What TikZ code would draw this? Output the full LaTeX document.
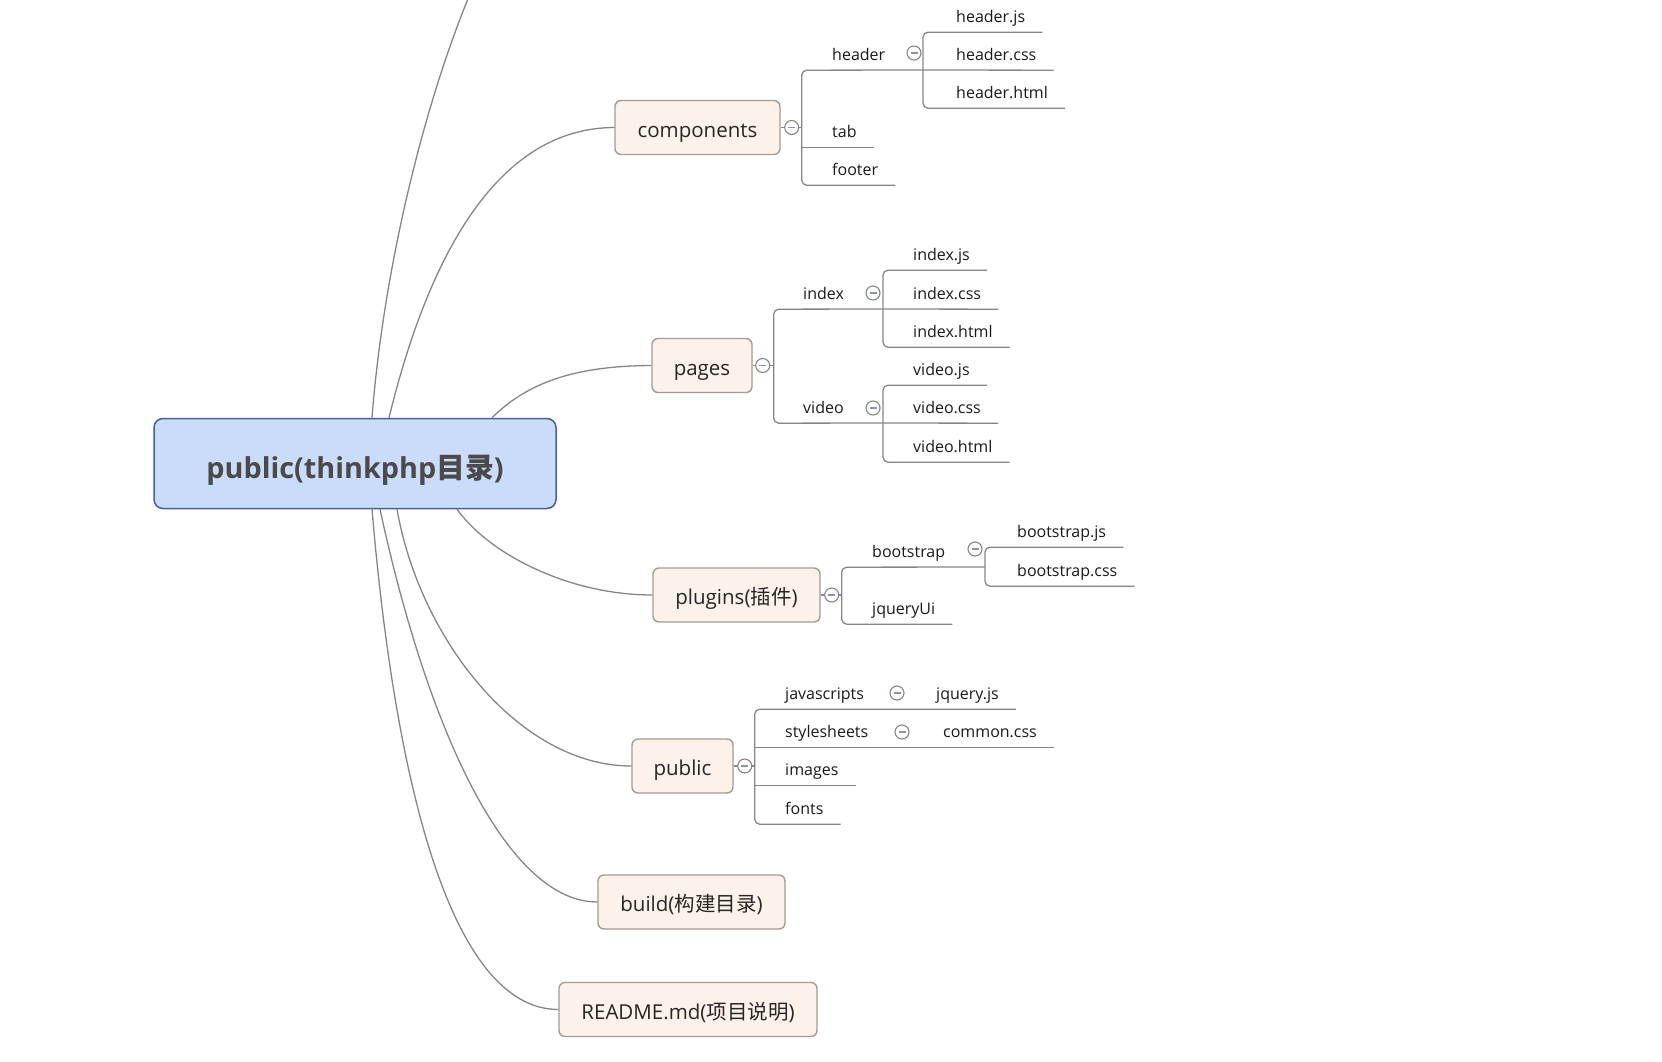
\documentclass[tikz,border=0pt]{standalone}
\usepackage{fontspec}
\setmainfont{Open Sans}
\newfontfamily\cjk{Noto Sans CJK SC}
\usetikzlibrary{positioning}

\definecolor{rootfill}{HTML}{CADCFA}
\definecolor{rootdraw}{HTML}{42609A}
\definecolor{roottext}{HTML}{4A4A4A}
\definecolor{topicfill}{HTML}{FDF2E9}
\definecolor{topicdraw}{HTML}{A39B94}
\definecolor{linegray}{HTML}{858585}
\definecolor{minusblue}{HTML}{8194BE}

\tikzset{
  root/.style={draw=rootdraw, fill=rootfill, line width=1.5pt, rounded corners=9pt,
    minimum width=402pt, minimum height=90pt, text=roottext,
    text height=29pt, text depth=0pt, font=\fontsize{28.8}{32}\selectfont\bfseries},
  topic/.style={draw=topicdraw, fill=topicfill, line width=1.4pt, rounded corners=6pt,
    minimum height=54pt, inner xsep=0pt, text=black!85,
    text height=19.5pt, text depth=0pt, font=\fontsize{20.5}{24}\selectfont},
  leaf/.style={anchor=base west, inner sep=0pt, yshift=-3pt, text height=12pt,
    text depth=9.5pt, text=black!90, font=\fontsize{16}{19}\selectfont},
  branch/.style={draw=linegray, line width=1.3pt},
  fold/.style={circle, draw=linegray, fill=white, line width=1.1pt, minimum size=14pt,
    inner sep=0pt, path picture={\draw[minusblue, line width=1.2pt]
      ([xshift=-3.5pt]path picture bounding box.center) --
      ([xshift=3.5pt]path picture bounding box.center);}},
}

\begin{document}
\begin{tikzpicture}[x=1pt, y=-1pt]
  \useasboundingbox (0,0) rectangle (1662,1062);

  % root and main topics
  \node[root] (main) at (355,463.5) {public(thinkphp{\cjk 目录})};
  \node[topic, minimum width=165pt] (comp) at (697.5,127.5) {components};
  \node[topic, minimum width=100pt] (pages) at (702,365.5) {pages};
  \node[topic, minimum width=167pt] (plug) at (736.5,595) {plugins({\cjk 插件})};
  \node[topic, minimum width=101pt] (pub) at (682.5,766) {public};
  \node[topic, minimum width=187pt] (build) at (691.5,902) {build({\cjk 构建目录})};
  \node[topic, minimum width=258pt] (readme) at (688,1009.5) {README.md({\cjk 项目说明})};
  \coordinate (offtop) at (490,-50);

  % curves from the root
  \draw[branch] ([xshift=17pt]main.north) .. controls (385,250) and (435,60) .. (offtop);
  \draw[branch] ([xshift=34pt]main.north) .. controls (430,250) and (500,128) .. (comp.west);
  \draw[branch] ([xshift=137pt]main.north) .. controls (530,380) and (580,366) .. (pages.west);
  \draw[branch] ([xshift=102pt]main.south) .. controls (490,555) and (570,595) .. (plug.west);
  \draw[branch] ([xshift=42pt]main.south) .. controls (420,640) and (520,766) .. (pub.west);
  \draw[branch] ([xshift=25pt]main.south) .. controls (430,740) and (510,902) .. (build.west);
  \draw[branch] ([xshift=17pt]main.south) .. controls (395,780) and (450,1009) .. (readme.west);

  % components
  \coordinate (compB) at ([xshift=21pt]comp.east);
  \node[leaf] (hdr) at (832,57.5) {header};
  \node[leaf] (tab) at (832,134.5) {tab};
  \node[leaf] (ftr) at (832,172.5) {footer};
  \coordinate (hdrB) at (923,70);
  \node[leaf] (hjs) at (956,19.5) {header.js};
  \node[leaf] (hcss) at (956,57.5) {header.css};
  \node[leaf] (hhtml) at (956,95.5) {header.html};
  \draw[branch] (comp.east) -- (compB);
  \draw[branch, rounded corners=5pt] (hdrB) -- (compB |- hdr.south) -- (compB |- ftr.south)
    -- ([xshift=17pt]ftr.south east);
  \draw[branch] (compB |- tab.south) -- ([xshift=17pt]tab.south east);
  \draw[branch, rounded corners=5pt] ([xshift=17pt]hjs.south east) -- (hdrB |- hjs.south)
    -- (hdrB |- hhtml.south) -- ([xshift=17pt]hhtml.south east);
  \draw[branch] (hdrB) -- ([xshift=17pt]hcss.south east);
  \node[fold] (compF) at ([xshift=11pt]comp.east) {};
  \node[fold] (hdrF) at (914,53) {};

  % pages
  \coordinate (pagesB) at ([xshift=21pt]pages.east);
  \node[leaf] (idx) at (803,296.5) {index};
  \node[leaf] (vid) at (803,410.5) {video};
  \coordinate (idxB) at (883,309);
  \coordinate (vidB) at (883,423);
  \node[leaf] (ijs) at (913,257.5) {index.js};
  \node[leaf] (icss) at (913,296.5) {index.css};
  \node[leaf] (ihtml) at (913,334.5) {index.html};
  \node[leaf] (vjs) at (913,372.5) {video.js};
  \node[leaf] (vcss) at (913,410.5) {video.css};
  \node[leaf] (vhtml) at (913,449.5) {video.html};
  \draw[branch] (pages.east) -- (pagesB);
  \draw[branch, rounded corners=5pt] (idxB) -- (pagesB |- idx.south) -- (pagesB |- vid.south)
    -- (vidB);
  \draw[branch, rounded corners=5pt] ([xshift=17pt]ijs.south east) -- (idxB |- ijs.south)
    -- (idxB |- ihtml.south) -- ([xshift=17pt]ihtml.south east);
  \draw[branch] (idxB) -- ([xshift=17pt]icss.south east);
  \draw[branch, rounded corners=5pt] ([xshift=17pt]vjs.south east) -- (vidB |- vjs.south)
    -- (vidB |- vhtml.south) -- ([xshift=17pt]vhtml.south east);
  \draw[branch] (vidB) -- ([xshift=17pt]vcss.south east);
  \node[fold] (pagesF) at ([xshift=10pt]pages.east) {};
  \node[fold] (idxF) at (873,293) {};
  \node[fold] (vidF) at (873,408) {};

  % plugins
  \coordinate (plugB) at ([xshift=21pt]plug.east);
  \node[leaf] (bs) at (872,554.5) {bootstrap};
  \node[leaf] (jui) at (872,611.5) {jqueryUi};
  \coordinate (bsB) at (985,567);
  \node[leaf] (bsjs) at (1017,534.5) {bootstrap.js};
  \node[leaf] (bscss) at (1017,573.5) {bootstrap.css};
  \draw[branch] (plug.east) -- (plugB);
  \draw[branch, rounded corners=5pt] (bsB) -- (plugB |- bs.south) -- (plugB |- jui.south)
    -- ([xshift=17pt]jui.south east);
  \draw[branch, rounded corners=5pt] ([xshift=17pt]bsjs.south east) -- (bsB |- bsjs.south)
    -- (bsB |- bscss.south) -- ([xshift=17pt]bscss.south east);
  \node[fold] (plugF) at ([xshift=11pt]plug.east) {};
  \node[fold] (bsF) at (975,549) {};

  % public
  \coordinate (pubB) at ([xshift=21pt]pub.east);
  \node[leaf] (js) at (785,696.5) {javascripts};
  \node[leaf] (css) at (785,734.5) {stylesheets};
  \node[leaf] (img) at (785,772.5) {images};
  \node[leaf] (fnt) at (785,811.5) {fonts};
  \node[leaf] (jq) at (936,696.5) {jquery.js};
  \node[leaf] (cmn) at (943,734.5) {common.css};
  \draw[branch] (pub.east) -- (pubB);
  \draw[branch, rounded corners=5pt] ([xshift=17pt]jq.south east) -- (pubB |- js.south)
    -- (pubB |- fnt.south) -- ([xshift=17pt]fnt.south east);
  \draw[branch] (pubB |- css.south) -- ([xshift=17pt]cmn.south east);
  \draw[branch] (pubB |- img.south) -- ([xshift=17pt]img.south east);
  \node[fold] (pubF) at ([xshift=11pt]pub.east) {};
  \node[fold] (jsF) at (897,693) {};
  \node[fold] (cssF) at (902,732) {};
\end{tikzpicture}
\end{document}
